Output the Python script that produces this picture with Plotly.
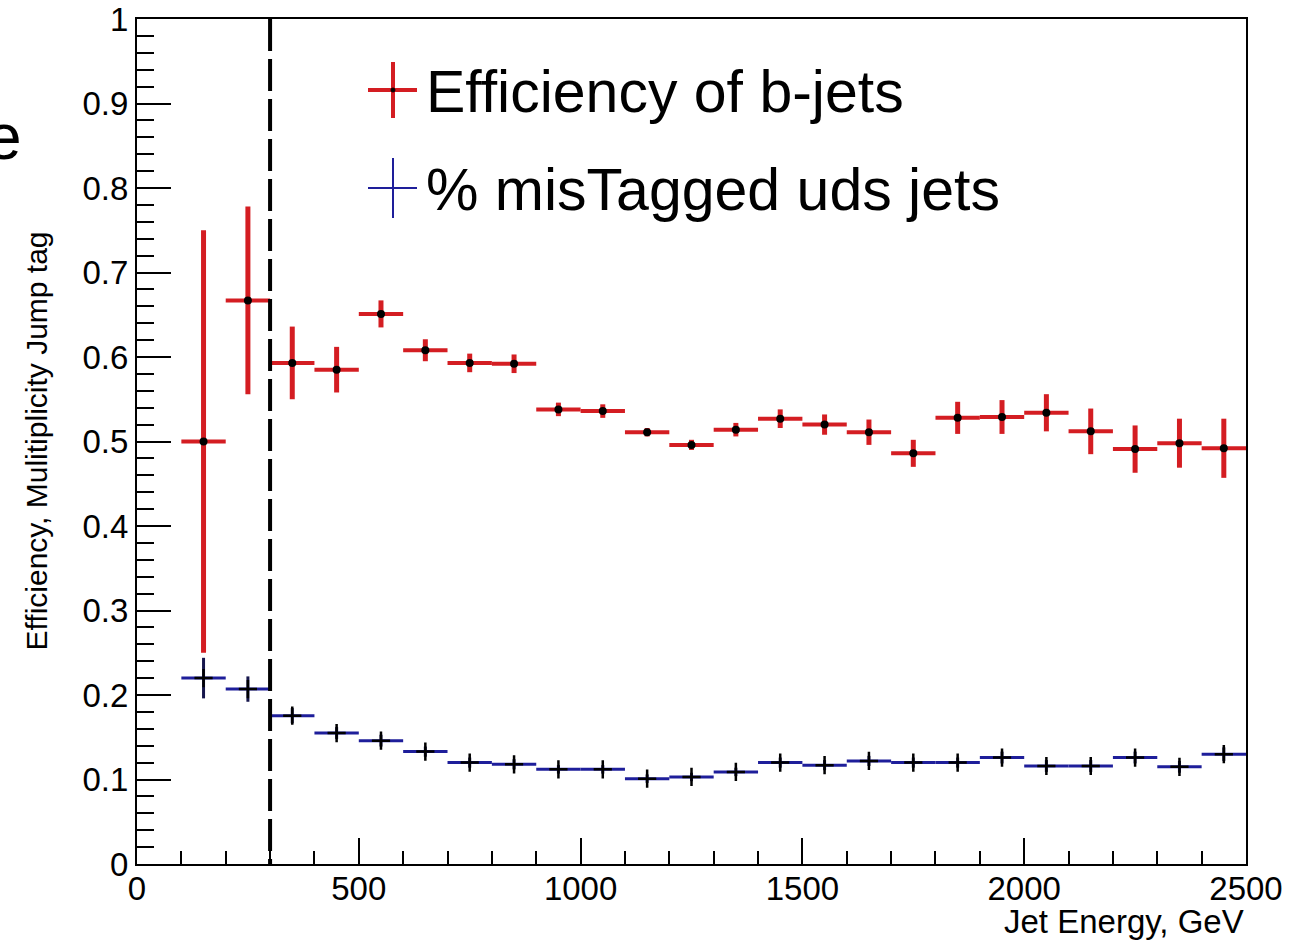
import plotly.graph_objects as go

# Jet energy bin centres (GeV); every bin is 100 GeV wide
energy_bins = [150, 250, 350, 450, 550, 650, 750, 850, 950, 1050, 1150, 1250,
               1350, 1450, 1550, 1650, 1750, 1850, 1950, 2050, 2150, 2250, 2350, 2450]
bin_half_width = 50

# b-jet tagging efficiency and its statistical uncertainty
bjet_eff = [0.500, 0.667, 0.593, 0.585, 0.651, 0.608, 0.593, 0.592, 0.538, 0.536, 0.511, 0.496,
            0.514, 0.527, 0.520, 0.511, 0.486, 0.528, 0.529, 0.534, 0.512, 0.491, 0.498, 0.492]
bjet_err = [0.250, 0.111, 0.043, 0.027, 0.016, 0.013, 0.011, 0.011, 0.008, 0.008, 0.005, 0.006,
            0.008, 0.011, 0.012, 0.015, 0.016, 0.019, 0.020, 0.022, 0.027, 0.028, 0.029, 0.035]

# fraction of light (uds) jets wrongly tagged
mistag = [0.220, 0.207, 0.1755, 0.155, 0.146, 0.133, 0.120, 0.118, 0.112, 0.112, 0.101, 0.103,
          0.109, 0.120, 0.117, 0.122, 0.120, 0.120, 0.126, 0.116, 0.116, 0.126, 0.115, 0.130]
mistag_err = [0.024, 0.015, 0.009, 0.007, 0.007, 0.006, 0.006, 0.006, 0.005, 0.005, 0.005, 0.005,
              0.005, 0.006, 0.006, 0.006, 0.006, 0.006, 0.007, 0.007, 0.007, 0.007, 0.007, 0.008]

energy_cut = 300  # GeV, lower energy threshold

RED = "#d41d22"
BLUE = "#1e1e9a"
NAVY = "#16164c"
FONT = "Liberation Sans, Arial, Helvetica, sans-serif"

W, H = 1301, 942
ML, MR, MT, MB = 137, 55, 19, 78
PW, PH = W - ML - MR, H - MT - MB


def px(x):
    return (x - ML) / PW


def py(y):
    return (H - MB - y) / PH


fig = go.Figure()

fig.add_trace(go.Scatter(
    x=energy_bins, y=bjet_eff, mode="markers", name="Efficiency of b-jets",
    marker=dict(symbol="circle", size=8, color="black"),
    error_x=dict(type="constant", value=bin_half_width, color=RED, thickness=4, width=0),
    error_y=dict(type="data", array=bjet_err, color=RED, thickness=5, width=0),
))

fig.add_trace(go.Scatter(
    x=energy_bins, y=mistag, mode="markers", name="% misTagged uds jets",
    marker=dict(symbol="cross-thin", size=13, color="black", line=dict(color="black", width=2.5)),
    error_x=dict(type="constant", value=bin_half_width, color=BLUE, thickness=3, width=0),
    error_y=dict(type="data", array=mistag_err, color=NAVY, thickness=3, width=0),
))

shapes = [
    # energy threshold
    dict(type="line", xref="x", yref="y", x0=energy_cut, x1=energy_cut, y0=1, y1=0,
         line=dict(color="black", width=4, dash="32px,8px"), layer="above"),
    # legend glyphs
    dict(type="line", xref="paper", yref="paper", x0=px(393), x1=px(393), y0=py(62), y1=py(118),
         line=dict(color=RED, width=4)),
    dict(type="line", xref="paper", yref="paper", x0=px(368), x1=px(417), y0=py(90), y1=py(90),
         line=dict(color=RED, width=4)),
    dict(type="circle", xref="paper", yref="paper", x0=px(391), x1=px(395), y0=py(88), y1=py(92),
         fillcolor="black", line=dict(color="black", width=1)),
    dict(type="line", xref="paper", yref="paper", x0=px(393), x1=px(393), y0=py(158), y1=py(218),
         line=dict(color=BLUE, width=2)),
    dict(type="line", xref="paper", yref="paper", x0=px(368), x1=px(417), y0=py(188), y1=py(188),
         line=dict(color=BLUE, width=2)),
]

annotations = [
    dict(text="Efficiency of b-jets", xref="paper", yref="paper", x=px(424), y=py(92),
         xanchor="left", yanchor="middle", showarrow=False, font=dict(size=59, color="black", family=FONT)),
    dict(text="% misTagged uds jets", xref="paper", yref="paper", x=px(424), y=py(190),
         xanchor="left", yanchor="middle", showarrow=False, font=dict(size=59, color="black", family=FONT)),
    dict(text="Jet Energy, GeV", xref="paper", yref="paper", x=1, y=py(921),
         xanchor="right", yanchor="middle", showarrow=False, font=dict(size=33, color="black", family=FONT)),
    dict(text="Efficiency, Mulitiplicity Jump tag", xref="paper", yref="paper", x=px(36), y=0.5,
         xanchor="center", yanchor="middle", textangle=-90, showarrow=False,
         font=dict(size=30, color="black", family=FONT)),
    dict(text="e", xref="paper", yref="paper", x=px(24), y=py(137),
         xanchor="right", yanchor="middle", showarrow=False, font=dict(size=64, color="black", family=FONT)),
]

fig.update_layout(
    width=W, height=H,
    margin=dict(l=ML, r=MR, t=MT, b=MB, pad=0, autoexpand=False),
    paper_bgcolor="white", plot_bgcolor="white",
    showlegend=False,
    font=dict(family=FONT, color="black"),
    shapes=shapes, annotations=annotations,
)

fig.update_xaxes(
    range=[0, 2500], showgrid=False, zeroline=False, automargin=False,
    showline=True, linecolor="black", linewidth=2, mirror=True,
    ticks="inside", ticklen=26, tickwidth=2, tickcolor="black", dtick=500, tick0=0,
    minor=dict(ticks="inside", ticklen=13, tickwidth=2, tickcolor="black", dtick=100, showgrid=False),
    tickfont=dict(size=33, color="black", family=FONT), ticklabelstandoff=-6,
)
fig.update_yaxes(
    range=[0, 1], showgrid=False, zeroline=False, automargin=False,
    showline=True, linecolor="black", linewidth=2, mirror=True,
    ticks="inside", ticklen=34, tickwidth=2, tickcolor="black", dtick=0.1, tick0=0,
    minor=dict(ticks="inside", ticklen=17, tickwidth=2, tickcolor="black", dtick=0.02, showgrid=False),
    tickfont=dict(size=33, color="black", family=FONT), ticklabelstandoff=0,
)

fig.write_html("out.html")
